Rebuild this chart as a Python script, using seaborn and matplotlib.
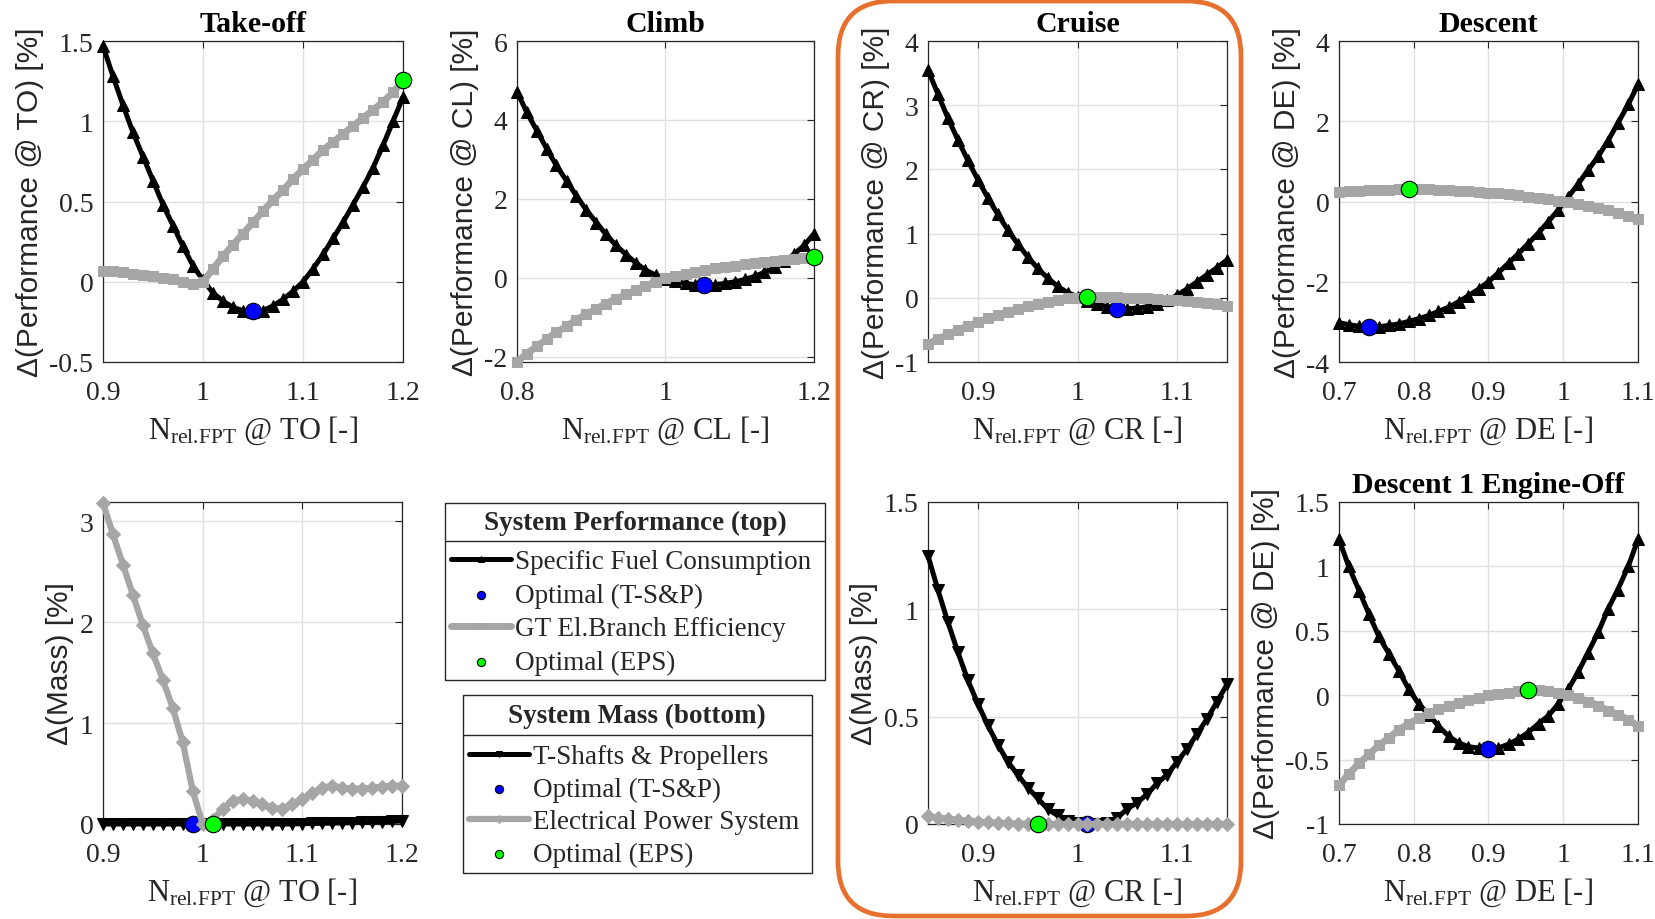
import numpy as np
import pandas as pd
import matplotlib
matplotlib.use("Agg")
import matplotlib.pyplot as plt
import seaborn as sns
from matplotlib.patches import FancyBboxPatch, Rectangle
from matplotlib.ticker import FixedLocator, FuncFormatter
from matplotlib.font_manager import FontProperties

# ---------------- data ----------------
to_x = [0.90, 0.91, 0.92, 0.93, 0.94, 0.95, 0.96, 0.97, 0.98, 0.99, 1.00,
        1.01, 1.02, 1.03, 1.04, 1.05, 1.06, 1.07, 1.08, 1.09, 1.10,
        1.11, 1.12, 1.13, 1.14, 1.15, 1.16, 1.17, 1.18, 1.19, 1.20]
to_sfc = [1.47, 1.28, 1.10, 0.93, 0.78, 0.63, 0.48, 0.35, 0.22, 0.10, 0.01,
          -0.07, -0.12, -0.16, -0.18, -0.19, -0.18, -0.15, -0.11, -0.06, 0.00,
          0.08, 0.17, 0.27, 0.37, 0.48, 0.59, 0.71, 0.85, 1.00, 1.15]
to_eff = [0.07, 0.065, 0.06, 0.05, 0.045, 0.035, 0.025, 0.015, 0.00, -0.015, 0.00,
          0.08, 0.16, 0.23, 0.30, 0.37, 0.44, 0.51, 0.57, 0.64, 0.70,
          0.76, 0.82, 0.87, 0.92, 0.97, 1.02, 1.07, 1.12, 1.18, 1.25]
to_opt_tsp = [1.05, -0.185]
to_opt_eps = [1.20, 1.26]

cl_x = [0.8, 0.813, 0.827, 0.84, 0.853, 0.867, 0.88, 0.893, 0.907, 0.92, 0.933,
        0.947, 0.96, 0.973, 0.987, 1.0, 1.013, 1.027, 1.04, 1.053, 1.067,
        1.08, 1.093, 1.107, 1.12, 1.133, 1.147, 1.16, 1.173, 1.187, 1.2]
cl_sfc = [4.72, 4.20, 3.72, 3.27, 2.85, 2.45, 2.08, 1.73, 1.40, 1.10, 0.83,
          0.59, 0.38, 0.20, 0.07, -0.02, -0.09, -0.14, -0.17, -0.18, -0.17,
          -0.14, -0.10, -0.04, 0.04, 0.14, 0.27, 0.42, 0.60, 0.83, 1.12]
cl_eff = [-2.12, -1.92, -1.73, -1.55, -1.38, -1.22, -1.06, -0.92, -0.78, -0.65, -0.53,
          -0.42, -0.31, -0.20, -0.10, 0.00, 0.06, 0.11, 0.16, 0.20, 0.24,
          0.28, 0.31, 0.34, 0.37, 0.40, 0.43, 0.45, 0.48, 0.50, 0.52]
cl_opt_tsp = [1.052, -0.17]
cl_opt_eps = [1.20, 0.52]

cr_x = [0.85, 0.86, 0.87, 0.88, 0.89, 0.90, 0.91, 0.92, 0.93, 0.94, 0.95,
        0.96, 0.97, 0.98, 0.99, 1.00, 1.01, 1.02, 1.03, 1.04, 1.05,
        1.06, 1.07, 1.08, 1.09, 1.10, 1.11, 1.12, 1.13, 1.14, 1.15]
cr_sfc = [3.55, 3.17, 2.80, 2.46, 2.14, 1.84, 1.56, 1.30, 1.06, 0.84, 0.64,
          0.46, 0.31, 0.18, 0.08, 0.02, -0.05, -0.10, -0.14, -0.16, -0.17,
          -0.16, -0.14, -0.10, -0.04, 0.04, 0.14, 0.25, 0.36, 0.47, 0.59]
cr_eff = [-0.72, -0.64, -0.57, -0.50, -0.44, -0.38, -0.32, -0.27, -0.22, -0.17, -0.13,
          -0.09, -0.06, -0.03, -0.01, 0.00, 0.01, 0.01, 0.01, 0.01, 0.00,
          0.00, -0.01, -0.02, -0.03, -0.04, -0.05, -0.07, -0.08, -0.10, -0.12]
cr_opt_tsp = [1.04, -0.17]
cr_opt_eps = [1.01, 0.02]

de_x = [0.7, 0.713, 0.727, 0.74, 0.753, 0.767, 0.78, 0.793, 0.807, 0.82, 0.833,
        0.847, 0.86, 0.873, 0.887, 0.9, 0.913, 0.927, 0.94, 0.953, 0.967,
        0.98, 0.993, 1.007, 1.02, 1.033, 1.047, 1.06, 1.073, 1.087, 1.1]
de_sfc = [-3.02, -3.07, -3.11, -3.13, -3.12, -3.09, -3.05, -2.99, -2.92, -2.84, -2.74,
          -2.63, -2.50, -2.35, -2.18, -2.00, -1.78, -1.53, -1.30, -1.05, -0.78,
          -0.50, -0.22, 0.12, 0.44, 0.78, 1.13, 1.52, 1.95, 2.42, 2.92]
de_eff = [0.24, 0.26, 0.27, 0.28, 0.29, 0.29, 0.30, 0.30, 0.30, 0.30, 0.29,
          0.28, 0.27, 0.26, 0.24, 0.22, 0.20, 0.18, 0.15, 0.12, 0.09,
          0.06, 0.02, -0.02, -0.06, -0.11, -0.16, -0.22, -0.28, -0.35, -0.43]
de_opt_tsp = [0.74, -3.13]
de_opt_eps = [0.793, 0.30]

tom_x = to_x
tom_shaft = [0.0, 0.0, 0.0, 0.0, 0.0, 0.0, 0.0, 0.0, 0.0, 0.0, 0.0,
             0.0, 0.0, 0.0, 0.0, 0.0, 0.0, 0.0, 0.0, 0.0, 0.003,
             0.005, 0.007, 0.009, 0.011, 0.013, 0.016, 0.019, 0.022, 0.026, 0.03]
tom_eps = [3.18, 2.87, 2.57, 2.27, 1.97, 1.69, 1.43, 1.15, 0.81, 0.33, 0.00,
           0.04, 0.15, 0.23, 0.25, 0.23, 0.20, 0.16, 0.15, 0.20, 0.25,
           0.31, 0.36, 0.38, 0.36, 0.35, 0.35, 0.36, 0.37, 0.38, 0.38]
tom_opt_tsp = [0.99, 0.0]
tom_opt_eps = [1.01, 0.0]

crm_x = cr_x
crm_shaft = [1.25, 1.09, 0.94, 0.80, 0.67, 0.56, 0.46, 0.37, 0.29, 0.23, 0.17,
             0.12, 0.07, 0.04, 0.015, 0.005, 0.0, 0.0, 0.005, 0.03, 0.07,
             0.10, 0.14, 0.19, 0.23, 0.29, 0.35, 0.42, 0.49, 0.57, 0.65]
crm_eps = [0.035, 0.03, 0.025, 0.02, 0.015, 0.01, 0.008, 0.005, 0.003, 0.002, 0.001,
           0.0, 0.0, 0.0, 0.0, 0.0, 0.0, 0.0, 0.0, 0.0, 0.0,
           0.0, 0.0, 0.0, 0.0, 0.0, 0.0, 0.0, 0.0, 0.0, 0.0]
crm_opt_tsp = [1.01, 0.0]
crm_opt_eps = [0.96, 0.0]

eo_x = de_x
eo_sfc = [1.21, 1.00, 0.81, 0.63, 0.46, 0.32, 0.19, 0.05, -0.07, -0.15, -0.24,
          -0.32, -0.37, -0.40, -0.41, -0.42, -0.41, -0.38, -0.34, -0.29, -0.22,
          -0.16, -0.07, 0.05, 0.18, 0.33, 0.49, 0.67, 0.82, 1.00, 1.21]
eo_eff = [-0.70, -0.61, -0.53, -0.46, -0.39, -0.33, -0.27, -0.22, -0.18, -0.14, -0.11,
          -0.08, -0.06, -0.04, -0.02, 0.00, 0.01, 0.02, 0.03, 0.04, 0.04,
          0.03, 0.02, 0.00, -0.02, -0.05, -0.08, -0.12, -0.15, -0.19, -0.24]
eo_opt_tsp = [0.90, -0.42]
eo_opt_eps = [0.953, 0.04]

leg_top_labels = ["Specific Fuel Consumption", "Optimal (T-S&P)",
                  "GT El.Branch Efficiency", "Optimal (EPS)"]
leg_bot_labels = ["T-Shafts & Propellers", "Optimal (T-S&P)",
                  "Electrical Power System", "Optimal (EPS)"]

# ---------------- style ----------------
sns.set_theme(style="white")
plt.rcParams["font.family"] = ["Liberation Serif", "DejaVu Serif"]
plt.rcParams["mathtext.fontset"] = "custom"
plt.rcParams["mathtext.rm"] = "Liberation Serif"
plt.rcParams["mathtext.it"] = "Liberation Serif:italic"
plt.rcParams["mathtext.bf"] = "Liberation Serif:bold"
plt.rcParams["axes.unicode_minus"] = False

BLACK = "#000000"
GRAY = "#A6A6A6"
BLUE = "#0000FF"
GREEN = "#00FF00"
AXC = "#262626"
TICK_FS = 20
LAB_FS = 21.5
XLAB_FS = 22
TITLE_FS = 21.5

fig = plt.figure(figsize=(16.56, 9.2), dpi=100)
W, H = 1656.0, 920.0


def make_ax(x0, x1, y0, y1):
    return fig.add_axes([x0 / W, 1 - y1 / H, (x1 - x0) / W, (y1 - y0) / H])


fmt = FuncFormatter(lambda v, p: f"{v:g}")


def style_ax(ax, xlim, ylim, xt, yt, xlab, ylab, title=None):
    ax.set_xlim(*xlim)
    ax.set_ylim(*ylim)
    ax.xaxis.set_major_locator(FixedLocator(xt))
    ax.yaxis.set_major_locator(FixedLocator(yt))
    ax.xaxis.set_major_formatter(fmt)
    ax.yaxis.set_major_formatter(fmt)
    ax.grid(True, color="#E0E0E0", lw=1.0)
    ax.set_axisbelow(True)
    for s in ax.spines.values():
        s.set_visible(True)
        s.set_color(AXC)
        s.set_linewidth(0.9)
    ax.tick_params(direction="in", length=5, width=0.8, top=True, right=True,
                   colors=AXC, labelsize=TICK_FS, labelfontfamily="Liberation Serif")
    ax.tick_params(axis="x", pad=13)
    ax.tick_params(axis="y", pad=7)
    ax.set_xlabel(xlab, fontsize=XLAB_FS, color=AXC, labelpad=6)
    ax.set_ylabel(ylab, fontsize=LAB_FS, color=AXC, family="Liberation Sans", labelpad=4)
    if title:
        ax.set_title(title, fontsize=TITLE_FS, fontweight="bold", color="black", pad=7)


def draw(ax, x, yb, yg, opt_b, opt_g, mass=False):
    mk_b = "v" if mass else "^"
    mk_g = "D" if mass else "s"
    sns.lineplot(x=x, y=yb, ax=ax, color=BLACK, lw=3.6, marker=mk_b, ms=9,
                 mec=BLACK, mfc=BLACK, clip_on=False, zorder=3, estimator=None, sort=False)
    sns.scatterplot(x=[opt_b[0]], y=[opt_b[1]], ax=ax, color=BLUE, s=140,
                    edgecolor="black", linewidth=0.8, zorder=4, clip_on=False)
    sns.lineplot(x=x, y=yg, ax=ax, color=GRAY, lw=5 if not mass else 4.5, marker=mk_g,
                 ms=7.5, mec=GRAY, mfc=GRAY, clip_on=False, zorder=5, estimator=None, sort=False)
    sns.scatterplot(x=[opt_g[0]], y=[opt_g[1]], ax=ax, color=GREEN, s=140,
                    edgecolor="black", linewidth=0.8, zorder=6, clip_on=False)


def xl(tag):
    return r"N$_{\mathrm{rel.\!FPT}}$ @ " + tag + " [-]"


# top row
ax_to = make_ax(103, 403, 42, 363)
draw(ax_to, to_x, to_sfc, to_eff, to_opt_tsp, to_opt_eps)
style_ax(ax_to, (0.9, 1.2), (-0.5, 1.5), [0.9, 1.0, 1.1, 1.2], [-0.5, 0, 0.5, 1, 1.5],
         xl("TO"), "\u0394(Performance @ TO) [%]", "Take-off")

ax_cl = make_ax(517, 814, 42, 363)
draw(ax_cl, cl_x, cl_sfc, cl_eff, cl_opt_tsp, cl_opt_eps)
style_ax(ax_cl, (0.8, 1.2), (-2.13, 6), [0.8, 1.0, 1.2], [-2, 0, 2, 4, 6],
         xl("CL"), "\u0394(Performance @ CL) [%]", "Climb")

ax_cr = make_ax(928, 1227, 42, 363)
draw(ax_cr, cr_x, cr_sfc, cr_eff, cr_opt_tsp, cr_opt_eps)
style_ax(ax_cr, (0.85, 1.15), (-1, 4), [0.9, 1.0, 1.1], [-1, 0, 1, 2, 3, 4],
         xl("CR"), "\u0394(Performance @ CR) [%]", "Cruise")

ax_de = make_ax(1339, 1638, 42, 363)
draw(ax_de, de_x, de_sfc, de_eff, de_opt_tsp, de_opt_eps)
style_ax(ax_de, (0.7, 1.1), (-4, 4), [0.7, 0.8, 0.9, 1.0, 1.1], [-4, -2, 0, 2, 4],
         xl("DE"), "\u0394(Performance @ DE) [%]", "Descent")

# bottom row
ax_tom = make_ax(103, 402, 503, 825)
draw(ax_tom, tom_x, tom_shaft, tom_eps, tom_opt_tsp, tom_opt_eps, mass=True)
style_ax(ax_tom, (0.9, 1.2), (0, 3.19), [0.9, 1.0, 1.1, 1.2], [0, 1, 2, 3],
         xl("TO"), "\u0394(Mass) [%]")

ax_crm = make_ax(928, 1227, 503, 825)
draw(ax_crm, crm_x, crm_shaft, crm_eps, crm_opt_tsp, crm_opt_eps, mass=True)
style_ax(ax_crm, (0.85, 1.15), (0, 1.5), [0.9, 1.0, 1.1], [0, 0.5, 1, 1.5],
         xl("CR"), "\u0394(Mass) [%]")

ax_eo = make_ax(1339, 1638, 503, 825)
draw(ax_eo, eo_x, eo_sfc, eo_eff, eo_opt_tsp, eo_opt_eps)
style_ax(ax_eo, (0.7, 1.1), (-1, 1.5), [0.7, 0.8, 0.9, 1.0, 1.1], [-1, -0.5, 0, 0.5, 1, 1.5],
         xl("DE"), "\u0394(Performance @ DE) [%]", "Descent 1 Engine-Off")

# overlay in pixel coordinates (y downward)
ov = fig.add_axes([0, 0, 1, 1], zorder=-1)
ov.set_xlim(0, W)
ov.set_ylim(H, 0)
ov.axis("off")
ov.patch.set_alpha(0)

ov.add_patch(FancyBboxPatch((838, 2), 403, 915, boxstyle="round,pad=0,rounding_size=55",
                            fill=False, edgecolor="#E8702E", lw=3.4))

hdr_font = FontProperties(family="Liberation Serif", weight="bold", size=19.5)
leg_font = FontProperties(family="Liberation Serif", size=19.5)

ov.add_patch(Rectangle((445, 504), 380, 177, fill=False, edgecolor=AXC, lw=1.0))
ov.plot([445, 825], [542, 542], color=AXC, lw=1.0)
ov.text(635, 523, "System Performance (top)", ha="center", va="center", fontproperties=hdr_font)

ov.add_patch(Rectangle((463, 696), 349, 178, fill=False, edgecolor=AXC, lw=1.0))
ov.plot([463, 812], [736, 736], color=AXC, lw=1.0)
ov.text(637, 716, "System Mass (bottom)", ha="center", va="center", fontproperties=hdr_font)

h_top = [ax_to.lines[0], ax_to.collections[0], ax_to.lines[1], ax_to.collections[1]]
h_bot = [ax_tom.lines[0], ax_tom.collections[0], ax_tom.lines[1], ax_tom.collections[1]]

fig.legend(h_top, leg_top_labels, loc="upper left", bbox_to_anchor=(451 / W, 1 - 550 / H),
           frameon=False, borderpad=0, borderaxespad=0, handlelength=2.2, handletextpad=0.15,
           labelspacing=0.32, prop=leg_font, markerscale=0.5)
fig.legend(h_bot, leg_bot_labels, loc="upper left", bbox_to_anchor=(469 / W, 1 - 745 / H),
           frameon=False, borderpad=0, borderaxespad=0, handlelength=2.2, handletextpad=0.15,
           labelspacing=0.28, prop=leg_font, markerscale=0.5)

fig.savefig("out.png", dpi=100, facecolor="white")
